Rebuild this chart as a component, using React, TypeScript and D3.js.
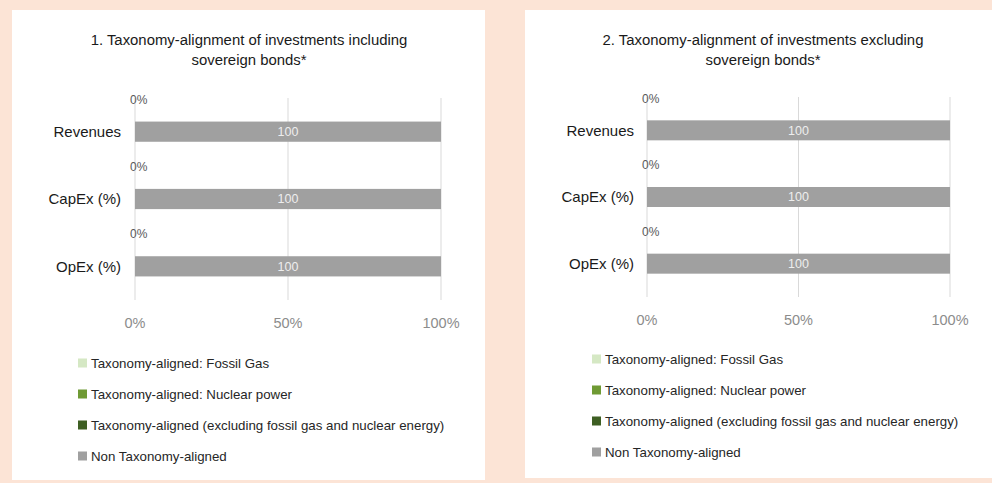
import React from "react";
import * as d3 from "d3";

// categories shown on the y axis
const categories = ["Revenues", "CapEx (%)", "OpEx (%)"];

// legend / series names (stack order)
const seriesNames = [
  "Taxonomy-aligned: Fossil Gas",
  "Taxonomy-aligned: Nuclear power",
  "Taxonomy-aligned (excluding fossil gas and nuclear energy)",
  "Non Taxonomy-aligned",
];

// chart 1: including sovereign bonds
const inclFossilGas = [0, 0, 0];
const inclNuclear = [0, 0, 0];
const inclAligned = [0, 0, 0];
const inclNonAligned = [100, 100, 100];

// chart 2: excluding sovereign bonds
const exclFossilGas = [0, 0, 0];
const exclNuclear = [0, 0, 0];
const exclAligned = [0, 0, 0];
const exclNonAligned = [100, 100, 100];

const xTicks = [0, 50, 100];
const xTickLabels = ["0%", "50%", "100%"];

const colors = ["#d5e8c4", "#6f9a34", "#3e5f23", "#a0a0a0"];
const FONT = "'Liberation Sans', Arial, sans-serif";

function Panel({ title, values, layout }) {
  const { x0, x1, yTop, yBot, cx, lx, ly, tickY, catGap } = layout;

  const rows = categories.map((c, i) => {
    const r = { cat: c };
    seriesNames.forEach((s, k) => (r[s] = values[k][i]));
    return r;
  });
  const stacked = d3.stack().keys(seriesNames)(rows);

  const x = d3.scaleLinear().domain([0, 100]).range([x0, x1]);
  const y = d3
    .scaleBand()
    .domain(categories)
    .range([yTop, yBot])
    .paddingInner(0.7)
    .paddingOuter(0.35);

  return (
    <g>
      <text x={cx} y={45} textAnchor="middle" fontSize={14.9} fill="#1a1a1a" fontFamily={FONT}>
        {title[0]}
      </text>
      <text x={cx} y={65} textAnchor="middle" fontSize={14.9} fill="#1a1a1a" fontFamily={FONT}>
        {title[1]}
      </text>

      {/* gridlines */}
      {xTicks.map((t) => (
        <line key={t} x1={x(t)} x2={x(t)} y1={yTop} y2={yBot} stroke="#d9d9d9" strokeWidth={1} />
      ))}

      {/* stacked bars */}
      {stacked.map((layer, k) =>
        layer.map((d, i) =>
          d[1] - d[0] > 0 ? (
            <rect
              key={k + "-" + i}
              x={x(d[0])}
              y={y(categories[i])}
              width={x(d[1]) - x(d[0])}
              height={y.bandwidth()}
              fill={colors[k]}
            />
          ) : null
        )
      )}

      {/* value labels of the grey series */}
      {stacked[3].map((d, i) => (
        <text
          key={"v" + i}
          x={x((d[0] + d[1]) / 2)}
          y={y(categories[i]) + y.bandwidth() / 2}
          dy="0.35em"
          textAnchor="middle"
          fontSize={12.5}
          fill="#eeeeee"
          fontFamily={FONT}
        >
          {d[1] - d[0]}
        </text>
      ))}

      {/* zero labels of aligned series */}
      {stacked[2].map((d, i) => (
        <text
          key={"z" + i}
          x={x(d[0]) - 5}
          y={y(categories[i]) - 22}
          dy="0.35em"
          fontSize={12}
          fill="#595959"
          fontFamily={FONT}
        >
          {d3.format(".0%")((d[1] - d[0]) / 100)}
        </text>
      ))}

      {/* category labels */}
      {categories.map((c) => (
        <text
          key={c}
          x={x0 - catGap}
          y={y(c) + y.bandwidth() / 2}
          dy="0.35em"
          textAnchor="end"
          fontSize={15}
          fill="#1a1a1a"
          fontFamily={FONT}
        >
          {c}
        </text>
      ))}

      {/* x tick labels */}
      {xTicks.map((t, i) => (
        <text
          key={"t" + t}
          x={x(t)}
          y={tickY}
          dy="0.35em"
          textAnchor="middle"
          fontSize={14.5}
          fill="#8c8c8c"
          fontFamily={FONT}
        >
          {xTickLabels[i]}
        </text>
      ))}

      {/* legend */}
      {seriesNames.map((s, k) => (
        <g key={s} transform={`translate(${lx},${ly + k * 31})`}>
          <rect x={0} y={-4.5} width={9} height={9} fill={colors[k]} />
          <text x={13} y={0} dy="0.35em" fontSize={13.3} fill="#262626" fontFamily={FONT}>
            {s}
          </text>
        </g>
      ))}
    </g>
  );
}

export default function App() {
  return (
    <div style={{ position: "absolute", left: 0, top: 0 }}>
      <svg width={992} height={483} style={{ display: "block" }}>
        <rect x={0} y={0} width={992} height={483} fill="#fce4d6" />
        <rect x={12} y={10} width={473} height={470} fill="#ffffff" />
        <rect x={525} y={10} width={467} height={468} fill="#ffffff" />
        <Panel
          title={["1. Taxonomy-alignment of investments including", "sovereign bonds*"]}
          values={[inclFossilGas, inclNuclear, inclAligned, inclNonAligned]}
          layout={{ x0: 135, x1: 441, yTop: 98, yBot: 300, cx: 249, lx: 78, ly: 363, tickY: 323, catGap: 14 }}
        />
        <Panel
          title={["2. Taxonomy-alignment of investments excluding", "sovereign bonds*"]}
          values={[exclFossilGas, exclNuclear, exclAligned, exclNonAligned]}
          layout={{ x0: 647, x1: 950, yTop: 97, yBot: 297, cx: 763, lx: 592, ly: 359, tickY: 320, catGap: 13 }}
        />
      </svg>
    </div>
  );
}
